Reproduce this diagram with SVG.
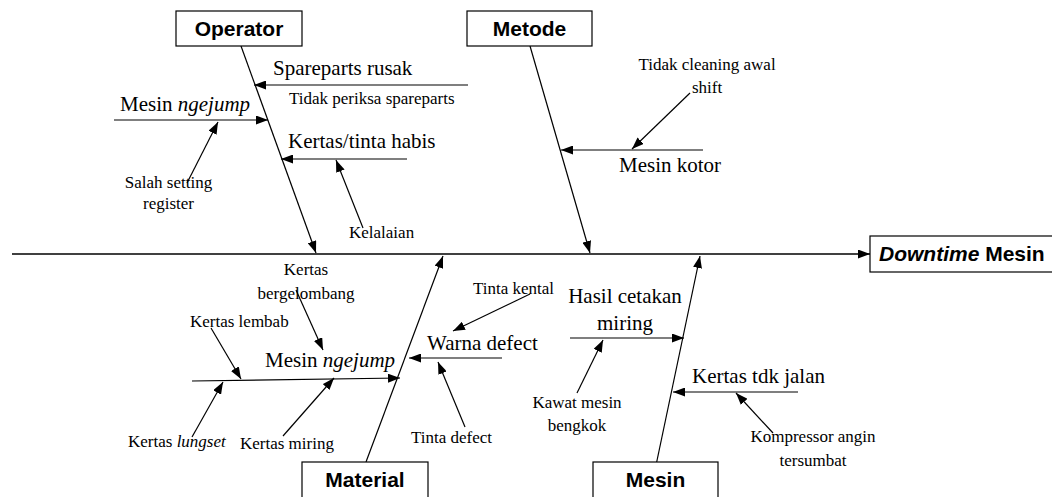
<svg xmlns="http://www.w3.org/2000/svg" width="1052" height="497" viewBox="0 0 1052 497">
<style>
.box{fill:#fff;stroke:#000;stroke-width:1.2}
.hd{font-family:"Liberation Sans",Arial,sans-serif;font-weight:bold;font-size:21px;fill:#000}
.big{font-family:"Liberation Serif","Times New Roman",serif;font-size:21px;fill:#000}
.sm{font-family:"Liberation Serif","Times New Roman",serif;font-size:17px;fill:#000}
.ln{stroke:#000;stroke-width:1.2;fill:none;marker-end:url(#ah)}
.sp{stroke:#000;stroke-width:1.4;fill:none;marker-end:url(#ah)}
</style>
<defs>
<marker id="ah" markerUnits="userSpaceOnUse" markerWidth="12" markerHeight="9" refX="12" refY="4.5" orient="auto">
<path d="M0,0 L12,4.5 L0,9 z" fill="#000"/>
</marker>
</defs>
<rect width="1052" height="497" fill="#fff"/>
<g id="connectors">
<line class="sp" x1="12" y1="254" x2="870" y2="254"/>
<line class="ln" x1="241" y1="46" x2="316" y2="253"/>
<line class="ln" x1="530" y1="46" x2="590" y2="253"/>
<line class="ln" x1="366" y1="462" x2="443" y2="256"/>
<line class="ln" x1="656.7" y1="462" x2="700" y2="256"/>
<line class="ln" x1="468" y1="85" x2="254" y2="85"/>
<line class="ln" x1="114" y1="120" x2="268" y2="120"/>
<line class="ln" x1="187" y1="183" x2="218" y2="122"/>
<line class="ln" x1="407" y1="159" x2="281" y2="159"/>
<line class="ln" x1="363" y1="228" x2="336" y2="160"/>
<line class="ln" x1="703" y1="150" x2="561" y2="150"/>
<line class="ln" x1="690" y1="93" x2="632" y2="149"/>
<line class="ln" x1="192" y1="381" x2="400" y2="378"/>
<line class="ln" x1="211" y1="328" x2="241" y2="379"/>
<line class="ln" x1="296" y1="290" x2="323" y2="350"/>
<line class="ln" x1="192" y1="437" x2="223" y2="382"/>
<line class="ln" x1="283" y1="436" x2="334" y2="378"/>
<line class="ln" x1="502" y1="358" x2="409" y2="358"/>
<line class="ln" x1="530" y1="294" x2="453" y2="331"/>
<line class="ln" x1="465" y1="427" x2="438" y2="362"/>
<line class="ln" x1="570" y1="338" x2="684" y2="338"/>
<line class="ln" x1="577" y1="393" x2="603" y2="340"/>
<line class="ln" x1="798" y1="392" x2="673" y2="392"/>
<line class="ln" x1="773" y1="433" x2="736" y2="393"/>
</g>
<g id="operator">
<rect class="box" x="176" y="11" width="126" height="35"/>
<text class="hd" x="239" y="36" text-anchor="middle">Operator</text>
</g>
<g id="metode">
<rect class="box" x="467" y="11" width="125" height="35"/>
<text class="hd" x="529.5" y="36" text-anchor="middle">Metode</text>
</g>
<g id="material">
<rect class="box" x="302" y="462" width="126" height="40"/>
<text class="hd" x="365" y="487" text-anchor="middle">Material</text>
</g>
<g id="mesin">
<rect class="box" x="593" y="462" width="125" height="40"/>
<text class="hd" x="655.5" y="487" text-anchor="middle">Mesin</text>
</g>
<g id="downtime">
<rect class="box" x="870" y="236" width="192" height="36"/>
<text class="hd" x="879" y="261"><tspan font-style="italic">Downtime</tspan> Mesin</text>
</g>
<g id="operator-causes">
<text class="big" x="273" y="75">Spareparts rusak</text>
<text class="sm" x="289" y="104">Tidak periksa spareparts</text>
<text class="big" x="120" y="111">Mesin <tspan font-style="italic">ngejump</tspan></text>
<text class="sm" x="168.5" y="188" text-anchor="middle">Salah setting</text>
<text class="sm" x="168.5" y="209" text-anchor="middle">register</text>
<text class="big" x="288" y="148">Kertas/tinta habis</text>
<text class="sm" x="349" y="238">Kelalaian</text>
</g>
<g id="metode-causes">
<text class="big" x="619" y="172">Mesin kotor</text>
<text class="sm" x="707" y="70" text-anchor="middle">Tidak cleaning awal</text>
<text class="sm" x="707" y="93" text-anchor="middle">shift</text>
</g>
<g id="material-causes">
<text class="big" x="265" y="367">Mesin <tspan font-style="italic">ngejump</tspan></text>
<text class="sm" x="190" y="327">Kertas lembab</text>
<text class="sm" x="306" y="275" text-anchor="middle">Kertas</text>
<text class="sm" x="306" y="299" text-anchor="middle">bergelombang</text>
<text class="sm" x="128" y="447">Kertas <tspan font-style="italic">lungset</tspan></text>
<text class="sm" x="240" y="449">Kertas miring</text>
<text class="big" x="427" y="350">Warna defect</text>
<text class="sm" x="473" y="294">Tinta kental</text>
<text class="sm" x="411" y="443">Tinta defect</text>
</g>
<g id="mesin-causes">
<text class="big" x="625" y="303" text-anchor="middle">Hasil cetakan</text>
<text class="big" x="625" y="330" text-anchor="middle">miring</text>
<text class="sm" x="577" y="408" text-anchor="middle">Kawat mesin</text>
<text class="sm" x="577" y="431" text-anchor="middle">bengkok</text>
<text class="big" x="692" y="383">Kertas tdk jalan</text>
<text class="sm" x="813" y="442" text-anchor="middle">Kompressor angin</text>
<text class="sm" x="813" y="466" text-anchor="middle">tersumbat</text>
</g>
</svg>
